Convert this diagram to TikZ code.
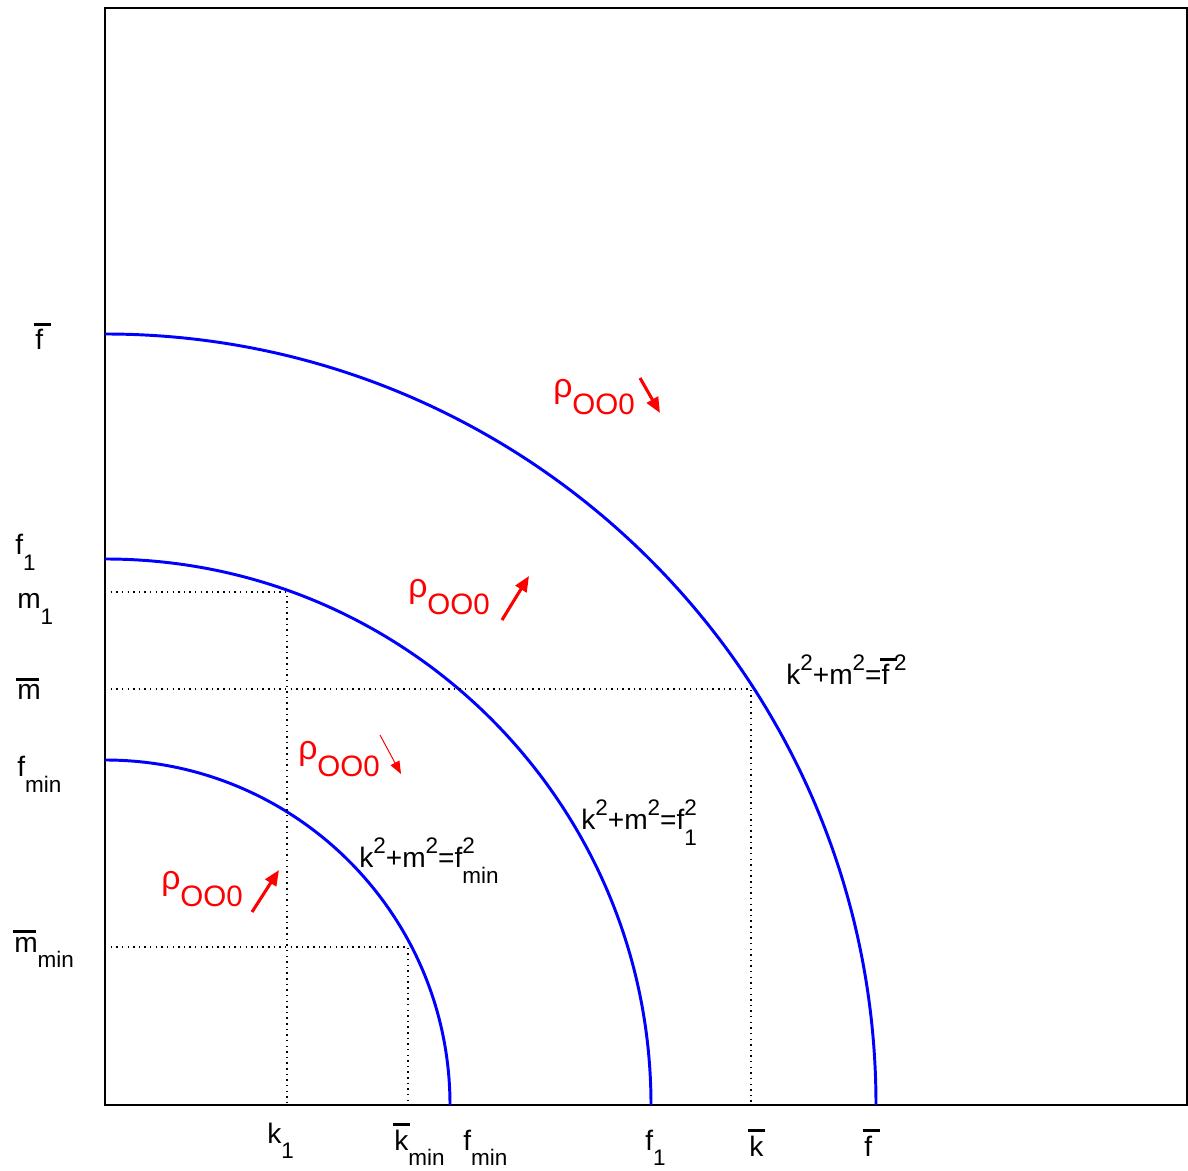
\documentclass[tikz,border=0pt]{standalone}
\usepackage{fontspec}
\setmainfont{Liberation Sans}
\usetikzlibrary{arrows.meta}

\newcommand\lblsz{\fontsize{20}{22}\selectfont}
\newcommand\subsz{\fontsize{16}{18}\selectfont}
\newcommand\rhosz{\fontsize{24}{26}\selectfont}
\newcommand\rhosubsz{\fontsize{21}{23}\selectfont}
\newcommand\up[1]{\raisebox{0.5em}{\subsz #1}}
\newcommand\dn[1]{\raisebox{-0.55em}{\subsz #1}}
\newcommand\updn[2]{\rlap{\up{#1}}\dn{#2}}
\newlength\barwd
\newcommand\ovb[1]{\setbox0\hbox{#1}%
  \setlength\barwd{\wd0}\ifdim\barwd<0.6em\setlength\barwd{0.6em}\fi
  \rlap{\hspace{-0.05em}\raisebox{\dimexpr\ht0+2.5pt\relax}{\rule{\barwd}{2.4pt}}}\box0}
\newcommand\rhoOO{ρ\raisebox{-0.5em}{\rhosubsz OO0}}

\tikzset{
  x = 0.025cm, y = 0.025cm,
  frame/.style = {line width=1pt},
  circ/.style = {blue, line width=2.1pt},
  guide/.style = {line width=0.9pt, dash pattern=on 1pt off 3pt},
  lbl/.style = {anchor=base west, inner sep=0pt, font=\lblsz},
  rholbl/.style = {anchor=base west, inner sep=0pt, red, font=\rhosz},
  trend/.style = {red, line width=2.2pt, -{Triangle[length=11pt,width=9pt]}},
  weak/.style = {red, line width=0.7pt, -{Triangle[length=9pt,width=7pt]}},
}

\begin{document}
\begin{tikzpicture}
  \useasboundingbox (0,0) rectangle (1188,1170);

  % axes
  \coordinate (O) at (105,65);
  \draw[frame] (O) rectangle (1187,1162);

  % circles k^2+m^2=f^2
  \draw[circ] (105,836) arc[start angle=90, end angle=0, radius=771];
  \draw[circ] (105,611) arc[start angle=90, end angle=0, radius=546];
  \draw[circ] (105,410) arc[start angle=90, end angle=0, radius=345];

  % guide points
  \coordinate (m1) at (105,578);  \coordinate (p1) at (287,578);  \coordinate (k1) at (287,65);
  \coordinate (mb) at (105,481);  \coordinate (pb) at (751,481);  \coordinate (kb) at (751,65);
  \coordinate (mm) at (105,223);  \coordinate (pm) at (408,223);  \coordinate (km) at (408,65);
  \draw[guide] (m1) -- (p1) -- (k1);
  \draw[guide] (mb) -- (pb) -- (kb);
  \draw[guide] (mm) -- (pm) -- (km);

  % y labels
  \node[lbl] (yfb)   at (35,820)  {\ovb{f}};
  \node[lbl] (yf1)   at (15,615)  {f\dn{1}};
  \node[lbl] (ym1)   at (17,561)  {m\dn{1}};
  \node[lbl] (ymb)   at (17,470)  {\ovb{m}};
  \node[lbl] (yfmin) at (17,393)  {f\dn{min}};
  \node[lbl] (ymmin) at (14,218)  {\ovb{m}\dn{min}};

  % x labels
  \node[lbl] (xk1)   at (267,27)  {k\dn{1}};
  \node[lbl] (xkmin) at (394,20)  {\ovb{k}\dn{min}};
  \node[lbl] (xfmin) at (463,20)  {f\dn{min}};
  \node[lbl] (xf1)   at (645,20)  {f\dn{1}};
  \node[lbl] (xkb)   at (749,14)  {\ovb{k}};
  \node[lbl] (xfb)   at (864,14)  {\ovb{f}};

  % circle equations
  \node[lbl] (eqfb)   at (786,485) {k\up{2}+m\up{2}=\ovb{f}\,\up{2}};
  \node[lbl] (eqf1)   at (581,340) {k\up{2}+m\up{2}=f\updn{2}{1}};
  \node[lbl] (eqfmin) at (359,302) {k\up{2}+m\up{2}=f\updn{2}{min}};

  % density trends
  \node[rholbl] (r1) at (553,772) {\rhoOO};
  \node[rholbl] (r2) at (408,572) {\rhoOO};
  \node[rholbl] (r3) at (298,410) {\rhoOO};
  \node[rholbl] (r4) at (161,280) {\rhoOO};
  \coordinate (a1) at (640,792);  \coordinate (b1) at (660,757);
  \coordinate (a2) at (502,550);  \coordinate (b2) at (529,594);
  \coordinate (a3) at (380,435);  \coordinate (b3) at (401,396);
  \coordinate (a4) at (252,258);  \coordinate (b4) at (279,300);
  \draw[trend] (a1) -- (b1);
  \draw[trend] (a2) -- (b2);
  \draw[weak]  (a3) -- (b3);
  \draw[trend] (a4) -- (b4);
\end{tikzpicture}
\end{document}
